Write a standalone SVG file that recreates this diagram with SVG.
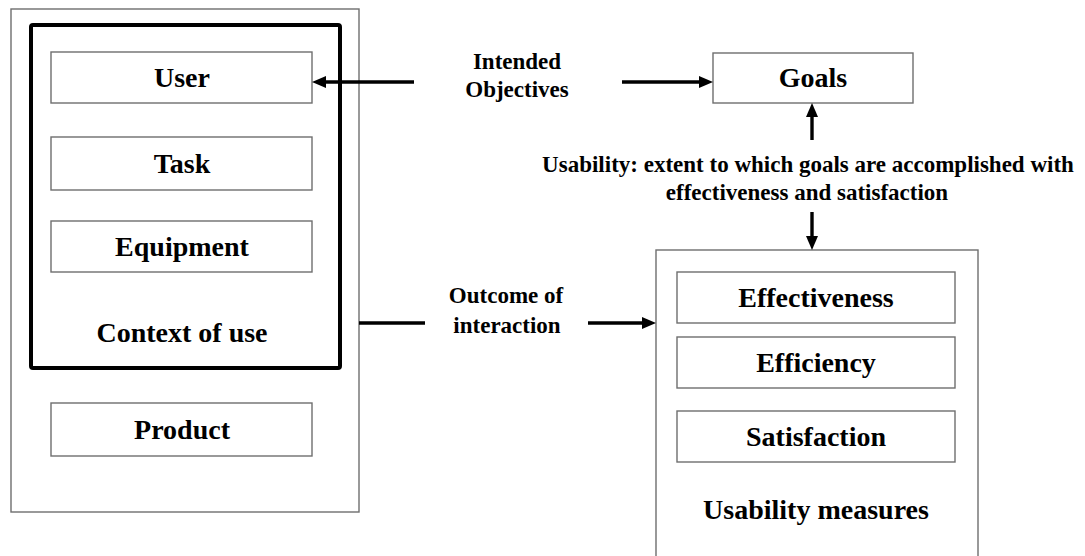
<svg xmlns="http://www.w3.org/2000/svg" width="1085" height="556" viewBox="0 0 1085 556">
<style>
  .box { fill: #ffffff; stroke: #6e6e6e; stroke-width: 1.4; }
  .thick { fill: none; stroke: #000000; stroke-width: 4; }
  .t { font-family: "Liberation Serif", "Times New Roman", serif; font-weight: bold; fill: #000000; text-anchor: middle; }
  .big { font-size: 28px; }
  .lbl { font-size: 23px; }
  .conn { stroke: #000000; stroke-width: 3.4; fill: none; }
</style>
<defs>
  <marker id="ah" viewBox="0 0 14 12" refX="7" refY="6" markerWidth="14" markerHeight="12" markerUnits="userSpaceOnUse" orient="auto">
    <path d="M0,0 L14,6 L0,12 Z" fill="#000000"/>
  </marker>
</defs>
<rect width="1085" height="556" fill="#ffffff"/>

<g id="product-side">
  <rect class="box" x="11" y="9" width="348" height="503"/>
</g>
<g id="context-of-use">
  <rect class="thick" x="31" y="25" width="309" height="343" rx="2"/>
  <text class="t big" x="182" y="342">Context of use</text>
</g>
<g id="user">
  <rect class="box" x="51" y="52" width="261" height="51"/>
  <text class="t big" x="182" y="87">User</text>
</g>
<g id="task">
  <rect class="box" x="51" y="137" width="261" height="53"/>
  <text class="t big" x="182" y="173">Task</text>
</g>
<g id="equipment">
  <rect class="box" x="51" y="221" width="261" height="51"/>
  <text class="t big" x="182" y="256">Equipment</text>
</g>
<g id="product">
  <rect class="box" x="51" y="403" width="261" height="53"/>
  <text class="t big" x="182" y="439">Product</text>
</g>

<g id="goals">
  <rect class="box" x="713" y="53" width="200" height="50"/>
  <text class="t big" x="813" y="87">Goals</text>
</g>

<g id="usability-measures">
  <rect class="box" x="656" y="250" width="322" height="330"/>
  <text class="t big" x="816" y="519">Usability measures</text>
</g>
<g id="effectiveness">
  <rect class="box" x="677" y="272" width="278" height="51"/>
  <text class="t big" x="816" y="307">Effectiveness</text>
</g>
<g id="efficiency">
  <rect class="box" x="677" y="337" width="278" height="51"/>
  <text class="t big" x="816" y="372">Efficiency</text>
</g>
<g id="satisfaction">
  <rect class="box" x="677" y="411" width="278" height="51"/>
  <text class="t big" x="816" y="446">Satisfaction</text>
</g>

<g id="connectors">
  <line class="conn" x1="414" y1="82" x2="319" y2="82" marker-end="url(#ah)"/>
  <line class="conn" x1="622" y1="82" x2="706" y2="82" marker-end="url(#ah)"/>
  <line class="conn" x1="812" y1="140" x2="812" y2="110" marker-end="url(#ah)"/>
  <line class="conn" x1="812" y1="212" x2="812" y2="243" marker-end="url(#ah)"/>
  <line class="conn" x1="359" y1="323" x2="425" y2="323"/>
  <line class="conn" x1="588" y1="323" x2="649" y2="323" marker-end="url(#ah)"/>
</g>

<g id="labels">
  <text class="t lbl" x="517" y="69">Intended</text>
  <text class="t lbl" x="517" y="97">Objectives</text>
  <text class="t lbl" x="506" y="303">Outcome of</text>
  <text class="t lbl" x="507" y="333">interaction</text>
  <text class="t lbl" x="808" y="172">Usability: extent to which goals are accomplished with</text>
  <text class="t lbl" x="807" y="200">effectiveness and satisfaction</text>
</g>
</svg>
